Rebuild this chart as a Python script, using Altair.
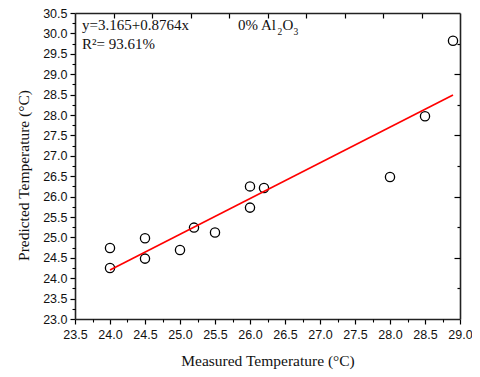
import altair as alt
import pandas as pd

# Data
measured = [24.0, 24.0, 24.5, 24.5, 25.0, 25.2, 25.5, 26.0, 26.0, 26.2, 28.0, 28.5, 28.9]
predicted = [24.74, 24.25, 24.98, 24.48, 24.69, 25.24, 25.12, 26.25, 25.73, 26.21, 26.48, 27.97, 29.82]
fit_x = [24.0, 28.9]
fit_y = [24.20, 28.49]
x_ticks = [23.5 + 0.5 * i for i in range(12)]
x_minor = [23.75 + 0.5 * i for i in range(11)]
y_ticks = [23.0 + 0.5 * i for i in range(16)]
y_minor = [23.25 + 0.5 * i for i in range(15)]
frame_ticks = list(range(0, 11))
top_marks = [1, 2, 3, 4, 5, 6, 7, 8, 9]
right_short = [1, 3, 5, 7, 9]
right_long = [2, 4, 6, 8]

W, H = 385, 306
SANS = "Liberation Sans"
SERIF = "Liberation Serif"

pts = pd.DataFrame({"mx": measured, "py": predicted})
fit = pd.DataFrame({"x": fit_x, "y": fit_y})
frame = pd.DataFrame({"t": frame_ticks})

xs = alt.Scale(domain=[23.5, 29.0], nice=False, zero=False)
ys = alt.Scale(domain=[23.0, 30.5], nice=False, zero=False)
fs = alt.Scale(domain=[0, 10], nice=False, zero=False)

x_axis = alt.Axis(values=x_ticks, format=".1f", orient="bottom", grid=False,
                  tickSize=5, tickColor="black", tickWidth=1.2,
                  domainColor="#222", domainWidth=1.6,
                  labelFont=SANS, labelFontSize=12.5, labelColor="#111",
                  labelPadding=4, labelFlush=False, labelOverlap=False,
                  title="Measured Temperature (°C)", titleFont=SERIF,
                  titleFontSize=15.5, titleFontWeight="normal", titleColor="#111",
                  titleBaseline="alphabetic", titleY=46, titleX=W / 2)
y_axis = alt.Axis(values=y_ticks, format=".1f", orient="left", grid=False,
                  tickSize=5, tickColor="black", tickWidth=1.2,
                  domainColor="#222", domainWidth=1.6,
                  labelFont=SANS, labelFontSize=12.5, labelColor="#111",
                  labelPadding=3, labelFlush=False, labelOverlap=False,
                  title="Predicted Temperature (°C)", titleFont=SERIF,
                  titleFontSize=15.5, titleFontWeight="normal", titleColor="#111",
                  titleAngle=-90, titleAlign="center", titleBaseline="alphabetic",
                  titleX=-47, titleY=162)
x_minor_axis = alt.Axis(values=x_minor, orient="bottom", grid=False, labels=False,
                        domain=False, tickSize=3, tickColor="black", tickWidth=1.1, title=None)
y_minor_axis = alt.Axis(values=y_minor, orient="left", grid=False, labels=False,
                        domain=False, tickSize=3, tickColor="black", tickWidth=1.1, title=None)
top_axis = alt.Axis(values=top_marks, orient="bottom", offset=-H, grid=False, labels=False,
                    domain=True, domainColor="#222", domainWidth=1.6,
                    tickSize=5, tickColor="black", tickWidth=1.2, title=None)
right_axis_s = alt.Axis(values=right_short, orient="left", offset=-W, grid=False, labels=False,
                        domain=True, domainColor="#222", domainWidth=1.6,
                        tickSize=3, tickColor="black", tickWidth=1.2, title=None)
right_axis_l = alt.Axis(values=right_long, orient="left", offset=-W, grid=False, labels=False,
                        domain=False, tickSize=6, tickColor="black", tickWidth=1.2, title=None)

points = alt.Chart(pts).mark_point(shape="circle", filled=False, color="black",
                                   size=85, strokeWidth=1.3, opacity=1).encode(
    x=alt.X("mx:Q", scale=xs, axis=x_axis),
    y=alt.Y("py:Q", scale=ys, axis=y_axis),
)
minor = alt.Chart(pts).mark_point(opacity=0).encode(
    x=alt.X("mx:Q", scale=xs, axis=x_minor_axis),
    y=alt.Y("py:Q", scale=ys, axis=y_minor_axis),
)
line = alt.Chart(fit).mark_line(color="#ff0000", strokeWidth=1.6).encode(
    x=alt.X("x:Q", scale=xs, axis=None),
    y=alt.Y("y:Q", scale=ys, axis=None),
)
frame1 = alt.Chart(frame).mark_point(opacity=0).encode(
    x=alt.X("t:Q", scale=fs, axis=top_axis),
    y=alt.Y("t:Q", scale=fs, axis=right_axis_s),
)
frame2 = alt.Chart(frame).mark_point(opacity=0).encode(
    x=alt.X("t:Q", scale=fs, axis=None),
    y=alt.Y("t:Q", scale=fs, axis=right_axis_l),
)


def label(text, x, y, size=15):
    return alt.Chart(pd.DataFrame({"s": [text]})).mark_text(
        font=SERIF, fontSize=size, color="#111", align="left", baseline="alphabetic"
    ).encode(text="s:N", x=alt.value(x), y=alt.value(y))


eq = label("y=3.165+0.8764x", 7, 17)
r2 = label("R²= 93.61%", 7, 36)
al = label("0% Al", 163, 17)
sub2 = label("2", 202.5, 22, 9.5)
oo = label("O", 207.5, 17)
sub3 = label("3", 218.5, 22, 9.5)

chart = alt.layer(points, minor, line, frame1, frame2, eq, r2, al, sub2, oo, sub3).resolve_scale(
    x="independent", y="independent"
).properties(
    width=W, height=H,
    autosize=alt.AutoSizeParams(type="none"),
    padding={"left": 67, "top": 5, "right": 12, "bottom": 58},
).configure_view(stroke=None)

chart.save("out.html", embed_options={"renderer": "svg", "actions": False})
